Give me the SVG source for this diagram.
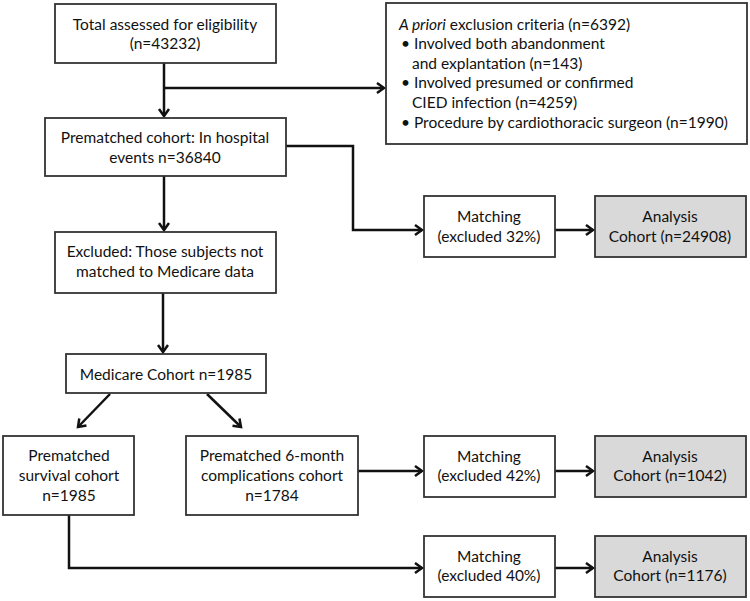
<svg xmlns="http://www.w3.org/2000/svg" width="750" height="601" viewBox="0 0 750 601">
<style>
.box{fill:#fff;stroke:#333;stroke-width:1.8}
.gray{fill:#d9d9d9;stroke:#333;stroke-width:1.8}
.t{font-family:Lato,"Liberation Sans",sans-serif;font-size:15.5px;fill:#111;text-anchor:middle}
.l{font-family:Lato,"Liberation Sans",sans-serif;font-size:15.5px;fill:#111}
.c{fill:none;stroke:#111;stroke-width:2.5}
</style>
<defs>
<marker id="ah" markerUnits="userSpaceOnUse" markerWidth="14" markerHeight="14" refX="10" refY="6" orient="auto">
<path d="M3,1 L10,6 L3,11" fill="none" stroke="#111" stroke-width="2.5"/>
</marker>
</defs>
<g id="connectors">
<path class="c" d="M164,63 V116" marker-end="url(#ah)"/>
<path class="c" d="M164,88 H384" marker-end="url(#ah)"/>
<path class="c" d="M164,176 V230" marker-end="url(#ah)"/>
<path class="c" d="M286,146 H353 V230 H422" marker-end="url(#ah)"/>
<path class="c" d="M555,230 H593" marker-end="url(#ah)"/>
<path class="c" d="M163,293 V352" marker-end="url(#ah)"/>
<path class="c" d="M110,394 L78,427" marker-end="url(#ah)"/>
<path class="c" d="M207,394 L241,427" marker-end="url(#ah)"/>
<path class="c" d="M358,471 H422" marker-end="url(#ah)"/>
<path class="c" d="M555,471 H593" marker-end="url(#ah)"/>
<path class="c" d="M69,515 V568 H422" marker-end="url(#ah)"/>
<path class="c" d="M555,568 H593" marker-end="url(#ah)"/>
</g>
<g id="total">
<rect class="box" x="55" y="4" width="221" height="59"/>
<text class="t" x="165" y="30">Total assessed for eligibility</text>
<text class="t" x="165" y="49">(n=43232)</text>
</g>
<g id="exclusion">
<rect class="box" x="386" y="3" width="361" height="141"/>
<text class="l" x="399" y="30"><tspan font-style="italic">A priori</tspan> exclusion criteria (n=6392)</text>
<text class="l" x="401" y="49">• Involved both abandonment</text>
<text class="l" x="412" y="69">and explantation (n=143)</text>
<text class="l" x="401" y="88">• Involved presumed or confirmed</text>
<text class="l" x="412" y="108">CIED infection (n=4259)</text>
<text class="l" x="401" y="128">• Procedure by cardiothoracic surgeon (n=1990)</text>
</g>
<g id="prematched">
<rect class="box" x="45" y="118" width="241" height="58"/>
<text class="t" x="165" y="143">Prematched cohort: In hospital</text>
<text class="t" x="165" y="163">events n=36840</text>
</g>
<g id="excluded">
<rect class="box" x="55" y="232" width="221" height="61"/>
<text class="t" x="165" y="257">Excluded: Those subjects not</text>
<text class="t" x="165" y="277">matched to Medicare data</text>
</g>
<g id="medicare">
<rect class="box" x="66" y="354" width="200" height="39"/>
<text class="t" x="166" y="380">Medicare Cohort n=1985</text>
</g>
<g id="survival">
<rect class="box" x="3" y="436" width="131" height="79"/>
<text class="t" x="69" y="461">Prematched</text>
<text class="t" x="69" y="481">survival cohort</text>
<text class="t" x="69" y="501">n=1985</text>
</g>
<g id="complications">
<rect class="box" x="186" y="436" width="172" height="79"/>
<text class="t" x="272" y="461">Prematched 6-month</text>
<text class="t" x="272" y="481">complications cohort</text>
<text class="t" x="272" y="501">n=1784</text>
</g>
<g id="matching1">
<rect class="box" x="424" y="196" width="131" height="61"/>
<text class="t" x="489" y="222">Matching</text>
<text class="t" x="489" y="242">(excluded 32%)</text>
</g>
<g id="analysis1">
<rect class="gray" x="595" y="196" width="151" height="61"/>
<text class="t" x="670" y="222">Analysis</text>
<text class="t" x="670" y="242">Cohort (n=24908)</text>
</g>
<g id="matching2">
<rect class="box" x="424" y="436" width="131" height="61"/>
<text class="t" x="489" y="462">Matching</text>
<text class="t" x="489" y="481">(excluded 42%)</text>
</g>
<g id="analysis2">
<rect class="gray" x="595" y="436" width="151" height="61"/>
<text class="t" x="670" y="462">Analysis</text>
<text class="t" x="670" y="481">Cohort (n=1042)</text>
</g>
<g id="matching3">
<rect class="box" x="424" y="536" width="131" height="61"/>
<text class="t" x="489" y="562">Matching</text>
<text class="t" x="489" y="581">(excluded 40%)</text>
</g>
<g id="analysis3">
<rect class="gray" x="595" y="536" width="151" height="61"/>
<text class="t" x="670" y="562">Analysis</text>
<text class="t" x="670" y="581">Cohort (n=1176)</text>
</g>
</svg>
